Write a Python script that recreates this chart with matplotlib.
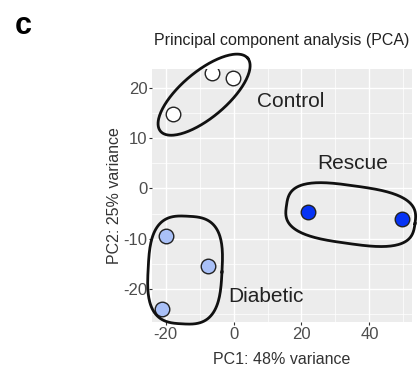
import numpy as np
import matplotlib.pyplot as plt

groups = ["Control", "Diabetic", "Rescue"]
pc1 = {"Control": [-17.9, -6.4, -0.2],
       "Diabetic": [-20.0, -7.6, -21.0],
       "Rescue": [21.8, 49.5]}
pc2 = {"Control": [14.7, 23.0, 22.0],
       "Diabetic": [-9.5, -15.4, -24.0],
       "Rescue": [-4.6, -6.0]}
colors = {"Control": "white", "Diabetic": "#a9c0f7", "Rescue": "#0633f5"}

plt.rcParams['font.family'] = ['Liberation Sans', 'DejaVu Sans']
plt.rcParams['axes.unicode_minus'] = False

fig = plt.figure(figsize=(4.18, 3.65), dpi=100)
ax = fig.add_axes([0.364, 0.118, 0.622, 0.693])
ax.set_facecolor("#ececec")
ax.set_xlim(-24, 52.6)
ax.set_ylim(-26.5, 23.7)
ax.set_xticks([-20, 0, 20, 40])
ax.set_yticks([-20, -10, 0, 10, 20])
ax.set_xticks([-10, 10, 30, 50], minor=True)
ax.set_yticks([-25, -15, -5, 5, 15], minor=True)
ax.grid(which="major", color="white", lw=1.0)
ax.grid(which="minor", color="white", lw=0.5)
ax.set_axisbelow(True)
for s in ax.spines.values():
    s.set_visible(False)
ax.tick_params(which="major", length=2.5, color="#333333", labelsize=12,
               labelcolor="#4d4d4d", pad=1)
ax.tick_params(which="minor", length=0)

for g in groups:
    ax.scatter(pc1[g], pc2[g], s=110, c=colors[g], edgecolors="#222222",
               linewidths=1.0, zorder=3)


def blob(cx, cy, a, b, ang, n=2.0):
    # closed curve drawn in pixel units, converted back to data units
    t = np.linspace(0, 2 * np.pi, 200)
    c, s = np.cos(t), np.sin(t)
    u = a * np.sign(c) * np.abs(c) ** (2 / n)
    v = b * np.sign(s) * np.abs(s) ** (2 / n)
    th = np.radians(ang)
    xp = u * np.cos(th) - v * np.sin(th)
    yp = u * np.sin(th) + v * np.cos(th)
    ax.plot(cx + xp / 3.4, cy + yp / 5.05, color="#111111", lw=2,
            clip_on=False, zorder=4)


blob(-8.7, 18.6, 57, 23, 40)
blob(-14.3, -16.2, 37, 54, -3, n=3)
blob(34.5, -5.2, 65, 29, -8, n=3)

ax.text(6.9, 17.2, "Control", fontsize=15, color="#222222", ha="left", va="center")
ax.text(35, 4.9, "Rescue", fontsize=15, color="#222222", ha="center", va="center")
ax.text(-1.5, -21.5, "Diabetic", fontsize=15, color="#222222", ha="left", va="center")

ax.set_xlabel("PC1: 48% variance", fontsize=11.5, color="#333333", labelpad=7)
ax.set_ylabel("PC2: 25% variance", fontsize=11.5, color="#333333", labelpad=1)
ax.set_title("Principal component analysis (PCA)", fontsize=11.5,
             color="#222222", pad=17)
fig.text(0.055, 0.929, "c", fontsize=22, fontweight="bold", ha="center", va="center")

fig.savefig("out.png", dpi=100)
